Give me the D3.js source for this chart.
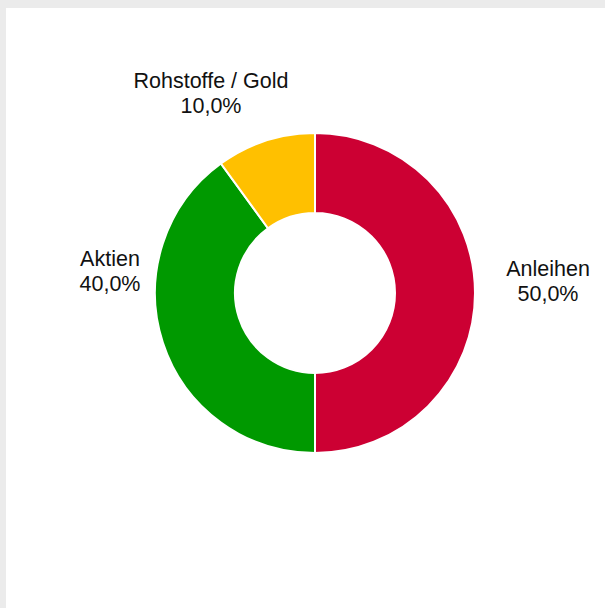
<!DOCTYPE html>
<html><head><meta charset="utf-8">
<script src="https://cdn.jsdelivr.net/npm/d3@7"></script>
<style>
html,body{margin:0;padding:0;background:#ebebeb;}
svg{display:block;}
</style></head>
<body>
<svg id="chart" width="605" height="608"></svg>
<script>
const categories = ["Anleihen", "Aktien", "Rohstoffe / Gold"];
const values = [50.0, 40.0, 10.0];
const colors = ["#cc0033", "#009900", "#ffc000"];

const svg = d3.select("#chart");
svg.append("rect").attr("x", 6).attr("y", 8).attr("width", 599).attr("height", 600).attr("fill", "#ffffff");

const cx = 315, cy = 293, outerR = 160, innerR = 80;
const data = categories.map((c, i) => ({ name: c, value: values[i], color: colors[i] }));
const pie = d3.pie().value(d => d.value).sort(null);
const arc = d3.arc().innerRadius(innerR).outerRadius(outerR);
const arcs = pie(data);

const g = svg.append("g").attr("transform", `translate(${cx},${cy})`);
g.selectAll("path").data(arcs).join("path")
  .attr("d", arc)
  .attr("fill", d => d.data.color)
  .attr("stroke", "#ffffff")
  .attr("stroke-width", 2);

const fmt = v => v.toFixed(1).replace(".", ",") + "%";
const labelPos = [[548, 268], [110, 258], [211, 80]];
const lg = svg.append("g").attr("font-family", "Liberation Sans, Arial, sans-serif").attr("font-size", 21.5).attr("fill", "#111111").attr("text-anchor", "middle");
arcs.forEach((d, i) => {
  const [x, y] = labelPos[i];
  const t = lg.append("text").attr("x", x).attr("y", y);
  t.append("tspan").attr("x", x).attr("dy", "0.35em").text(d.data.name);
  t.append("tspan").attr("x", x).attr("dy", "1.18em").text(fmt(d.data.value));
});
</script>
</body></html>
